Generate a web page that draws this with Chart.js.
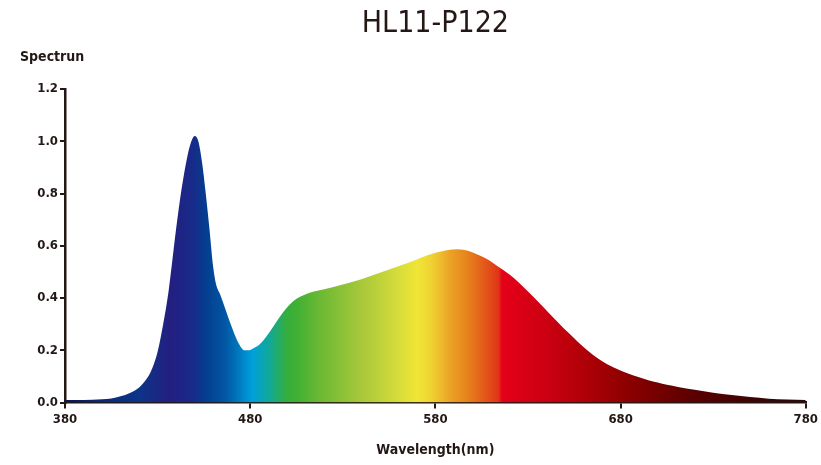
<!DOCTYPE html>
<html>
<head>
<meta charset="utf-8">
<script src="https://cdn.jsdelivr.net/npm/chart.js@4"></script>
<style>
  html, body { margin: 0; padding: 0; background: #fff; }
  #wrap { width: 821px; height: 465px; }
</style>
</head>
<body>
<div id="wrap"><canvas id="spectrum"></canvas></div>
<script>
const wavelengths = [380, 390, 400, 405, 410, 415, 420, 424, 427, 430, 433, 436, 440, 443, 446, 448, 450, 452, 454, 456, 458, 460, 461.5, 464, 467, 470, 472.5, 475, 477, 479, 481, 485, 490, 495, 500, 505, 510, 515, 520, 530, 540, 550, 560, 570, 580, 586, 592, 598, 603, 609, 614, 620, 625, 630, 636, 641, 646.5, 652, 657, 662, 668, 673, 679, 684, 690, 695, 700, 705, 711, 720, 730, 740, 750, 760, 770, 780];
const intensity = [0.01, 0.01, 0.013, 0.016, 0.024, 0.037, 0.058, 0.09, 0.13, 0.195, 0.3, 0.43, 0.665, 0.82, 0.94, 0.995, 1.02, 1.0, 0.92, 0.8, 0.665, 0.52, 0.455, 0.41, 0.35, 0.29, 0.245, 0.212, 0.2, 0.2, 0.205, 0.222, 0.265, 0.318, 0.365, 0.397, 0.415, 0.426, 0.434, 0.452, 0.472, 0.497, 0.522, 0.548, 0.573, 0.583, 0.587, 0.58, 0.566, 0.545, 0.52, 0.49, 0.46, 0.425, 0.382, 0.345, 0.305, 0.266, 0.232, 0.2, 0.168, 0.146, 0.126, 0.111, 0.097, 0.086, 0.077, 0.068, 0.06, 0.049, 0.038, 0.029, 0.021, 0.015, 0.012, 0.01];
const xTicks = [380, 480, 580, 680, 780];
const yTicks = [0, 0.2, 0.4, 0.6, 0.8, 1.0, 1.2];

// spectrum colour stops (nm -> colour)
const stopNm = [380, 400, 420, 437, 450, 456, 466, 472, 481, 490, 500, 505, 517, 540, 560, 570, 578, 588, 598, 608, 614, 616, 640, 660, 680, 700, 720, 750, 780];
const stopColors = ['#0b1552', '#0a2a78', '#0d3488', '#231f80', '#162c8a', '#033e8f', '#0255a2', '#0070b8', '#00a0dc', '#10a89a', '#35ae3c', '#40b035', '#6ab833', '#a8c83a', '#d6dc3a', '#efe636', '#f0d232', '#eba226', '#e6801c', '#e2521a', '#e03518', '#e50019', '#cc0012', '#b00008', '#920000', '#750000', '#5a0000', '#3e0404', '#2a0a0a'];

const ink = '#231815';
const condensed = "'DejaVu Sans Condensed', 'DejaVu Sans', sans-serif";
const tickFont = { family: condensed, size: 13, weight: 'bold' };

const spectrumFill = function (context) {
  const chart = context.chart;
  const area = chart.chartArea;
  if (!area) return '#1a2f8c';
  const xs = chart.scales.x;
  const grad = chart.ctx.createLinearGradient(area.left, 0, area.right, 0);
  stopNm.forEach(function (nm, i) {
    const p = (xs.getPixelForValue(nm) - area.left) / (area.right - area.left);
    grad.addColorStop(Math.min(1, Math.max(0, p)), stopColors[i]);
  });
  return grad;
};

// "Spectrun" sits horizontally above the y axis
const yLabelPlugin = {
  id: 'yLabel',
  afterDraw(chart) {
    const ctx = chart.ctx;
    ctx.save();
    ctx.fillStyle = ink;
    ctx.font = "bold 14px " + condensed;
    ctx.textAlign = 'left';
    ctx.textBaseline = 'middle';
    ctx.fillText('Spectrun', 20, 57);
    ctx.restore();
  }
};

new Chart(document.getElementById('spectrum'), {
  type: 'line',
  data: {
    datasets: [{
      label: 'Spectrun',
      data: wavelengths.map((w, i) => ({ x: w, y: intensity[i] })),
      fill: 'origin',
      backgroundColor: spectrumFill,
      borderWidth: 0,
      pointRadius: 0,
      cubicInterpolationMode: 'monotone'
    }]
  },
  options: {
    responsive: true,
    maintainAspectRatio: false,
    animation: false,
    layout: { padding: { left: 0, right: 13, top: 0, bottom: 2 } },
    plugins: {
      legend: { display: false },
      tooltip: { enabled: false },
      title: {
        display: true,
        text: 'HL11-P122',
        fullSize: false,
        color: ink,
        font: { family: condensed, size: 30, weight: 'normal' },
        padding: { top: 6, bottom: 47 }
      }
    },
    scales: {
      x: {
        type: 'linear',
        min: 380,
        max: 780,
        afterBuildTicks: (scale) => { scale.ticks = xTicks.map(v => ({ value: v })); },
        ticks: { color: ink, font: tickFont, padding: 3, maxRotation: 0 },
        grid: { drawOnChartArea: false, color: ink, lineWidth: 2, tickLength: 6 },
        border: { color: ink, width: 2.5 },
        title: {
          display: true,
          text: 'Wavelength(nm)',
          color: ink,
          font: { family: condensed, size: 14, weight: 'bold' },
          padding: { top: 12, bottom: 4 }
        }
      },
      y: {
        min: 0,
        max: 1.2,
        afterBuildTicks: (scale) => { scale.ticks = yTicks.map(v => ({ value: v })); },
        afterFit: (scale) => { scale.width = 65; },
        ticks: { color: ink, font: tickFont, padding: 2, callback: v => v.toFixed(1) },
        grid: { drawOnChartArea: false, color: ink, lineWidth: 2, tickLength: 5 },
        border: { color: ink, width: 2.5 }
      }
    }
  },
  plugins: [yLabelPlugin]
});
</script>
</body>
</html>
